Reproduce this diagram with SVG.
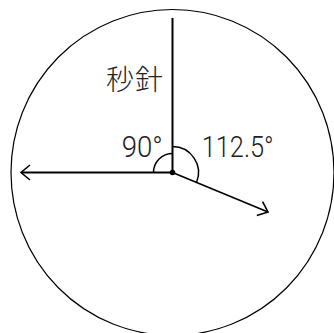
<svg xmlns="http://www.w3.org/2000/svg" width="334" height="333" viewBox="0 0 334 333">
<style>
.face{fill:#fff;stroke:#000;stroke-width:1.2}
.hand{stroke:#000;stroke-width:2;fill:none}
.thin{stroke:#000;stroke-width:1.6;fill:none}
.arc{stroke:#000;stroke-width:1.5;fill:none}
.lbl{font-family:Roboto,"Liberation Sans",sans-serif;font-weight:300;font-size:29px;fill:#222}
.cjk{font-family:"Noto Sans CJK JP",sans-serif;font-weight:300;font-size:28px;letter-spacing:1px;fill:#222}
</style>
<defs>
<marker id="open" markerUnits="userSpaceOnUse" markerWidth="24" markerHeight="24" viewBox="-12 -12 24 24" refX="0" refY="0" orient="auto">
<path d="M-9,-7.5 L0,0 L-9,7.5" fill="none" stroke="#000" stroke-width="1.6"/>
</marker>
</defs>
<rect width="334" height="333" fill="#fff"/>
<g id="dial">
<ellipse class="face" cx="172.5" cy="172.5" rx="161.5" ry="163"/>
</g>
<g id="connectors">
<line class="hand" x1="172.5" y1="172.5" x2="172.5" y2="18"/>
<line class="hand" x1="172.5" y1="172.5" x2="21" y2="172.5" marker-end="url(#open)"/>
<line class="thin" x1="172.5" y1="172.5" x2="268" y2="212" marker-end="url(#open)"/>
<path class="arc" d="M172.5,153.5 A19,19 0 0 0 153.5,172.5"/>
<path class="arc" d="M172.5,146.5 A26,26 0 0 1 196.5,182.45"/>
<circle cx="172.5" cy="172.5" r="2.8" fill="#000"/>
</g>
<g id="labels">
<text class="cjk" x="106" y="89.5">秒針</text>
<text class="lbl" x="121.7" y="157.3" textLength="41" lengthAdjust="spacingAndGlyphs">90°</text>
<text class="lbl" x="201.7" y="157.3" textLength="72" lengthAdjust="spacingAndGlyphs">112.5°</text>
</g>
</svg>
